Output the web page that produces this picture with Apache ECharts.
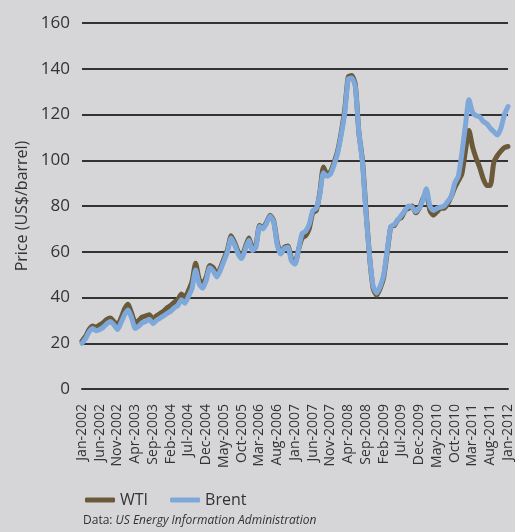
<!DOCTYPE html>
<html>
<head>
<meta charset="utf-8">
<script src="https://cdn.jsdelivr.net/npm/echarts@6/dist/echarts.min.js"></script>
<style>
html,body{margin:0;padding:0;background:#d6d6d8;}
#chart{width:515px;height:532px;}
</style>
</head>
<body>
<div id="chart"></div>
<script>
const months = ['Jan','Feb','Mar','Apr','May','Jun','Jul','Aug','Sep','Oct','Nov','Dec'];
const categories = [];
for (let y = 2002; y <= 2012; y++) {
  for (let m = 0; m < 12; m++) {
    if (y === 2012 && m > 0) break;
    categories.push(months[m] + '-' + y);
  }
}
const wti = [
  21,23,26,27.5,27,28,29,30.5,31,29.5,28,31,
  35,37,33,29,30,31.5,32,32.5,30.5,32,33,34,
  35.5,36.5,38,39,41.5,40,43,47,55,48,46,49,
  54,53,50,53,57,61,67,64,60,58,62,66,
  62,63,71.5,70.5,73,76,73.5,64,59.5,62,62.5,57,
  55,61,66,67,70,77,78,86,97,94,95,99,
  104,112,122,136.5,137,133,112,100,78,58,44,41,
  44,49,60,71,71.5,74,75,78,79,80,77,79,
  83,86,78,76,77.5,79,79,81,84,88,91,94,
  104,113,106,101,97,92,89,89,99,102,104,105.5,
  106
];
const brent = [
  20,22,25,26.5,25.5,26,27,28.5,29.5,28,26,29,
  32.5,34.5,31,26.5,27.5,29,29.5,30.5,28.5,30,31,32,
  33,34,35.5,36.5,39,37.5,40.5,44,52,46,44,47.5,
  53,51.5,49,52,56,60,66,63,59,57,61,65,
  60.5,62,71,70,72.5,75.5,73,63,59,61.5,62,56,
  54.5,61,68,69,72,78,79,85,94.5,93,94,98,
  103,111,120.5,135.5,136,132,112,99,77,58,45,42,
  45,50,61,71,72,74,76,78,80,79.5,77.5,79,
  82.5,87.5,80,78,79,79.5,80,82,84,90,93,103,
  115,126.5,121,119.5,119,117,116,114,112.5,111,114,120,
  123.5
];
const yTicks = {min: 0, max: 160, interval: 20};
const seriesNames = ['WTI', 'Brent'];

const chart = echarts.init(document.getElementById('chart'), null, {renderer: 'canvas'});
const font = 'Open Sans';
const ink = '#333333';
chart.setOption({
  backgroundColor: '#d6d6d8',
  animation: false,
  textStyle: {fontFamily: font},
  grid: {left: 82, right: 4, top: 23, bottom: 143, containLabel: false},
  legend: {
    data: seriesNames,
    left: 80, top: 487,
    icon: 'roundRect',
    itemWidth: 30, itemHeight: 5, itemGap: 22,
    textStyle: {fontSize: 16, color: ink, fontFamily: font}
  },
  xAxis: {
    type: 'category',
    data: categories,
    boundaryGap: false,
    axisLine: {show: true, lineStyle: {color: ink, width: 2}},
    axisTick: {show: false},
    axisLabel: {
      rotate: 90, interval: 4, fontSize: 14, color: ink,
      margin: 15, fontFamily: font
    },
    splitLine: {show: false}
  },
  yAxis: {
    type: 'value',
    min: yTicks.min, max: yTicks.max, interval: yTicks.interval,
    name: 'Price (US$/barrel)',
    nameLocation: 'middle', nameGap: 46, nameRotate: 90,
    nameTextStyle: {fontSize: 16, color: ink, fontFamily: font},
    axisLine: {show: false},
    axisTick: {show: false},
    axisLabel: {fontSize: 17, color: ink, margin: 12, fontFamily: font},
    splitLine: {show: true, lineStyle: {color: ink, width: 2}}
  },
  series: [
    {
      name: 'WTI', type: 'line', data: wti, showSymbol: false, smooth: 0.2,
      color: '#6b5a3a',
      lineStyle: {width: 5, color: '#6b5a3a', cap: 'round', join: 'round'}
    },
    {
      name: 'Brent', type: 'line', data: brent, showSymbol: false, smooth: 0.2,
      color: '#7ea8da',
      lineStyle: {width: 5, color: '#7ea8da', cap: 'round', join: 'round'}
    }
  ],
  graphic: [{
    type: 'text', left: 83, top: 515,
    style: {
      text: '{n|Data: }{i|US Energy Information Administration}',
      rich: {
        n: {fontSize: 12, fill: ink, fontFamily: font},
        i: {fontSize: 12, fill: ink, fontStyle: 'italic', fontFamily: font}
      }
    }
  }]
});
</script>
</body>
</html>
